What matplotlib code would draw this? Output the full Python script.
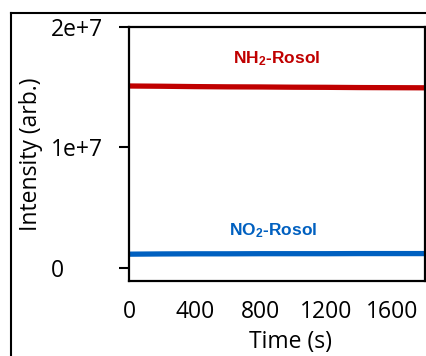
import matplotlib
matplotlib.use('Agg')
import matplotlib.pyplot as plt
from matplotlib.lines import Line2D

# time points (s) and intensities
time_s = [0, 200, 400, 600, 800, 1000, 1200, 1400, 1600, 1800]
nh2_rosol = [1.51e7, 1.508e7, 1.505e7, 1.503e7, 1.502e7, 1.500e7, 1.499e7, 1.497e7, 1.496e7, 1.495e7]
no2_rosol = [1.12e6, 1.14e6, 1.15e6, 1.15e6, 1.16e6, 1.16e6, 1.16e6, 1.17e6, 1.17e6, 1.17e6]

xticks = [0, 400, 800, 1200, 1600]
yticks = [0, 1e7, 2e7]
ytick_labels = ['0', '1e+7', '2e+7']

plt.rcParams['mathtext.fontset'] = 'custom'
plt.rcParams['mathtext.rm'] = 'Liberation Sans:bold'
plt.rcParams['mathtext.it'] = 'Liberation Sans:bold'
plt.rcParams['mathtext.bf'] = 'Liberation Sans:bold'

fig = plt.figure(figsize=(4.27, 3.56), dpi=100)
ax = fig.add_axes([0.302, 0.211, 0.693, 0.713])

red = '#c00000'
blue = '#0060c0'
ax.plot(time_s, nh2_rosol, color=red, lw=3.8, solid_capstyle='butt')
ax.plot(time_s, no2_rosol, color=blue, lw=3.8, solid_capstyle='butt')

ax.text(897, 1.74e7, 'NH$_2$-Rosol', color=red, fontsize=12.5, fontweight='bold',
        family='Liberation Sans', ha='center', va='center')
ax.text(879, 3.1e6, 'NO$_2$-Rosol', color=blue, fontsize=12.5, fontweight='bold',
        family='Liberation Sans', ha='center', va='center')

ax.set_xlim(0, 1800)
ax.set_ylim(-1.1e6, 2e7)
ax.set_xticks(xticks)
ax.set_yticks(yticks)
ax.set_yticklabels(ytick_labels, ha='left')

tick_font = {'family': 'Open Sans', 'size': 16.5}
for lab in ax.get_xticklabels() + ax.get_yticklabels():
    lab.set_fontfamily('Open Sans')
    lab.set_fontsize(16.5)
ax.tick_params(axis='x', length=0, pad=14)
ax.tick_params(axis='y', direction='out', length=7, width=1.5, pad=49)

for sp in ax.spines.values():
    sp.set_linewidth(1.6)

ax.set_xlabel('Time (s)', fontdict=tick_font)
ax.xaxis.set_label_coords(0.547, -0.195)
ax.set_ylabel('Intensity (arb.)', fontdict=tick_font)
ax.yaxis.set_label_coords(-0.29, 0.5)

# outer frame, cut off on the right and bottom
fig.add_artist(Line2D([11.5 / 427, 1.0], [1 - 12.5 / 356] * 2, color='black', lw=1.5))
fig.add_artist(Line2D([11.5 / 427] * 2, [0.0, 1 - 12.5 / 356], color='black', lw=1.5))

fig.savefig('out.png', dpi=100)
